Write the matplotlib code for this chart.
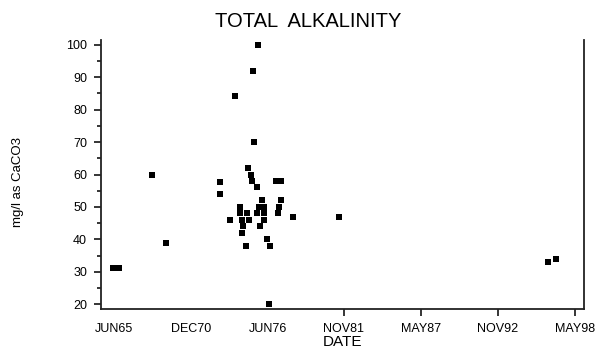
import matplotlib
matplotlib.use("Agg")
import matplotlib.pyplot as plt
import matplotlib.dates as mdates
from matplotlib.ticker import MultipleLocator
import pandas as pd

# ---- data ----
dates = ["1965-05-15", "1965-10-15", "1968-02-15", "1969-02-20",
         "1973-01-10", "1973-01-10", "1973-09-25", "1974-02-05",
         "1974-05-25", "1974-05-25", "1974-07-15", "1974-07-15",
         "1974-08-10", "1974-10-30", "1974-11-25", "1975-01-01",
         "1975-01-20", "1975-03-10", "1975-04-15", "1975-05-20",
         "1975-05-25", "1975-08-10", "1975-08-15", "1975-09-10",
         "1975-10-15", "1975-11-15", "1976-01-05", "1976-02-15",
         "1976-02-15", "1976-03-05", "1976-05-20", "1976-07-10",
         "1976-07-15", "1977-01-10", "1977-02-15", "1977-03-20",
         "1977-05-01", "1977-05-15", "1978-03-15", "1981-06-20",
         "1996-06-01", "1996-12-20"]
alkalinity = [31, 31, 60, 39,
              57.6, 54, 46, 84.3,
              50, 48, 46, 42, 44, 38, 48, 62,
              46, 60, 58, 92, 70, 56, 48, 100,
              50, 44, 52, 48, 50, 46, 40, 20,
              38, 58, 48, 50, 52, 58, 47, 47,
              33, 34]

tick_dates = ["1965-06-01", "1970-12-01", "1976-06-01", "1981-11-01",
              "1987-05-01", "1992-11-01", "1998-05-01"]
tick_labels = ["JUN65", "DEC70", "JUN76", "NOV81", "MAY87", "NOV92", "MAY98"]
y_ticks = [20, 30, 40, 50, 60, 70, 80, 90, 100]

# ---- figure ----
plt.rcParams['font.family'] = ['Liberation Sans', 'DejaVu Sans']
fig = plt.figure(figsize=(6.10, 3.56), dpi=100)
ax = fig.add_axes([0.1656, 0.132, 0.7914, 0.7556])

x = pd.to_datetime(dates)
rect = [(-1.35, -1), (1.35, -1), (1.35, 1), (-1.35, 1), (-1.35, -1)]
ax.scatter(x, alkalinity, marker=rect, s=25, color="black", linewidths=0, zorder=3)

ax.set_xlim(pd.Timestamp("1964-07-01"), pd.Timestamp("1998-12-25"))
ax.set_ylim(18.5, 101.5)

tx = pd.to_datetime(tick_dates)
ax.set_xticks(mdates.date2num(tx))
ax.set_xticklabels(tick_labels, fontsize=9)
ax.set_yticks(y_ticks)
ax.set_yticklabels([str(v) for v in y_ticks], fontsize=9)
ax.yaxis.set_minor_locator(MultipleLocator(5))

for sp in ["left", "bottom", "right"]:
    ax.spines[sp].set_linewidth(1.3)
    ax.spines[sp].set_color("#222222")
ax.spines["top"].set_visible(False)

ax.tick_params(axis="x", direction="out", length=5, width=1.1, pad=5)
ax.tick_params(axis="y", which="major", direction="out", length=5, width=1.1, pad=5)
ax.tick_params(axis="y", which="minor", direction="out", length=3, width=1.1)
for i, t in enumerate(ax.xaxis.get_major_ticks()):
    if i < 3:
        t.tick1line.set_visible(False)

ax.set_xlabel("DATE", fontsize=11, labelpad=0)
fig.text(0.03, 0.49, "mg/l as CaCO3", rotation=90, fontsize=9.5, ha="center", va="center")
fig.text(0.505, 0.94, "TOTAL  ALKALINITY", fontsize=14.5, ha="center", va="center")

fig.savefig("out.png", dpi=100)
